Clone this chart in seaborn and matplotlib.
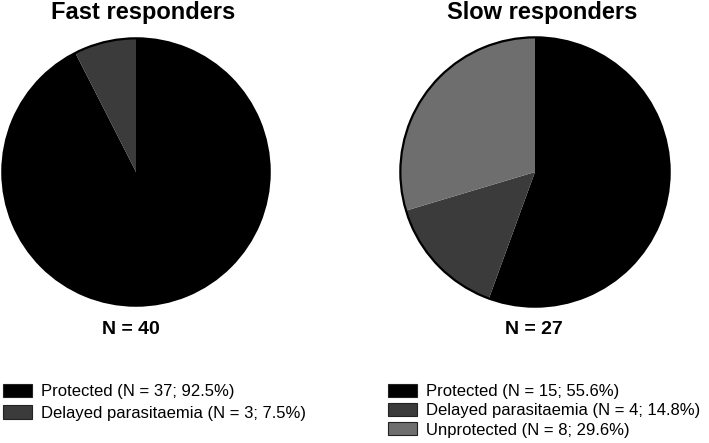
import matplotlib
matplotlib.use("Agg")
import matplotlib.pyplot as plt
import seaborn as sns

# Data
groups = ["Fast responders", "Slow responders"]
outcomes = ["Protected", "Delayed parasitaemia", "Unprotected"]
fast_counts = [37, 3]
slow_counts = [15, 4, 8]

sns.set_theme(style="white")
plt.rcParams["font.family"] = ["Liberation Sans", "DejaVu Sans"]
plt.rcParams["text.color"] = "black"

colors = sns.color_palette(["#000000", "#3b3b3b", "#6e6e6e"])

W, H = 709, 443
fig = plt.figure(figsize=(W / 100, H / 100), dpi=100)


def px_axes(cx, cy, r):
    return fig.add_axes([(cx - r) / W, (H - cy - r) / H, 2 * r / W, 2 * r / H])


def draw(cx, cy, r, counts, title, n_x, legend_xy, spacing):
    ax = px_axes(cx, cy, r)
    wedges, _ = ax.pie(counts, colors=colors[:len(counts)], startangle=90,
                       counterclock=False, radius=1,
                       wedgeprops=dict(linewidth=0))
    # outline around the whole pie
    ax.pie([sum(counts)], radius=1, colors=["none"],
           wedgeprops=dict(fill=False, edgecolor="black", linewidth=1.6))
    ax.set_xlim(-1.01, 1.01)
    ax.set_ylim(-1.01, 1.01)
    ax.set_aspect("equal")
    ax.axis("off")

    fig.text((cx + 7) / W, 1 - 13 / H, title, ha="center", va="center",
             fontsize=17, fontweight="bold")
    total = sum(counts)
    fig.text(n_x / W, 1 - 330 / H, f"N = {total}", ha="center", va="center",
             fontsize=14, fontweight="bold")

    labels = [f"{outcomes[i]} (N = {n}; {100 * n / total:.1f}%)"
              for i, n in enumerate(counts)]
    fig.legend(wedges, labels, loc="upper left",
               bbox_to_anchor=(legend_xy[0] / W, 1 - legend_xy[1] / H),
               frameon=False, fontsize=12, handlelength=1.75, handleheight=0.85,
               handletextpad=0.55, labelspacing=spacing, borderaxespad=0,
               borderpad=0)
    for h in fig.legends[-1].legend_handles:
        h.set_edgecolor("#222222")
        h.set_linewidth(0.8)


draw(136, 172, 135, fast_counts, groups[0], 131, (3, 384), 0.35)
draw(535, 172, 136, slow_counts, groups[1], 534, (388, 384), 0.22)

fig.savefig("out.png", dpi=100)
